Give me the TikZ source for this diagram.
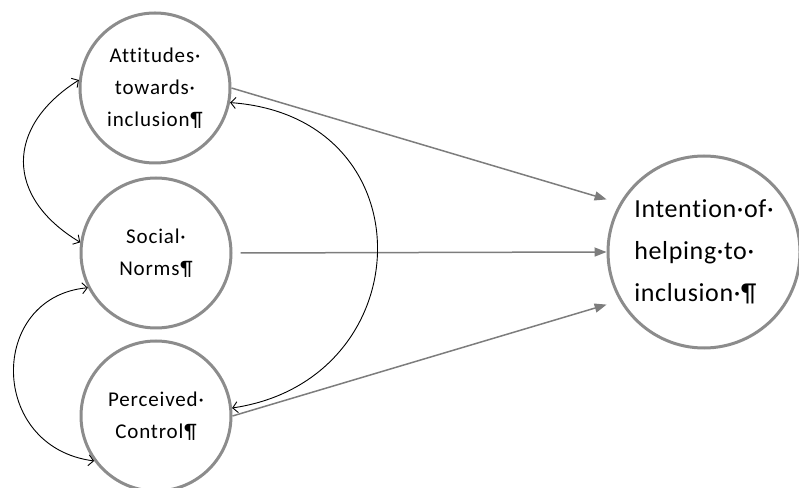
\documentclass[tikz,border=0pt]{standalone}
\usepackage{fontspec}
\setmainfont[Ligatures=NoCommon]{Carlito}
\newfontfamily\constructfont[Ligatures=NoCommon,LetterSpace=4]{Carlito}
\newfontfamily\outcomefont[Ligatures=NoCommon,LetterSpace=2.5]{Carlito}
\usetikzlibrary{arrows.meta}
\definecolor{ringgray}{RGB}{140,140,140}
\definecolor{pathgray}{RGB}{125,125,125}
\tikzset{
  construct/.style={circle,draw=ringgray,line width=3pt,fill=white,align=center,inner sep=0pt,minimum size=150pt,font=\constructfont\fontsize{21}{32}\selectfont},
  outcome/.style={construct,minimum size=192pt,align=left,font=\outcomefont\fontsize{26}{42}\selectfont},
  effect/.style={draw=pathgray,line width=1.5pt,-{Triangle[length=12pt,width=9pt]}},
  covary/.style={draw=black,line width=0.9pt,{Straight Barb[length=5pt,width=11pt]}-{Straight Barb[length=5pt,width=11pt]}}
}

\begin{document}
\begin{tikzpicture}[x=1pt,y=1pt]
\useasboundingbox (0,0) rectangle (799,487);

% predictors
\node[construct] (att) at (155,399) {Attitudes·\\towards·\\inclusion¶};
\node[construct] (soc) at (156,234) {Social·\\Norms¶};
\node[construct] (per) at (156,71) {Perceived·\\Control¶};

% outcome
\node[outcome] (int) at (704,235) {Intention·of·\\helping·to·\\inclusion·¶};

% paths to intention
\draw[effect,shorten >=13.5pt] (att.east) -- (int.150);
\draw[effect,shorten <=8pt] (soc.east) -- (int.west);
\draw[effect,shorten >=13.5pt] (per.east) -- (int.210);

% correlations
\draw[covary] (att.174) .. controls (5,360) and (5,290) .. (soc.172);
\draw[covary] (soc.207) .. controls (-12,190) and (-12,40) .. (per.216);
\draw[covary] (att.349) .. controls (430,370) and (422,107) .. (per.6);

\end{tikzpicture}
\end{document}
